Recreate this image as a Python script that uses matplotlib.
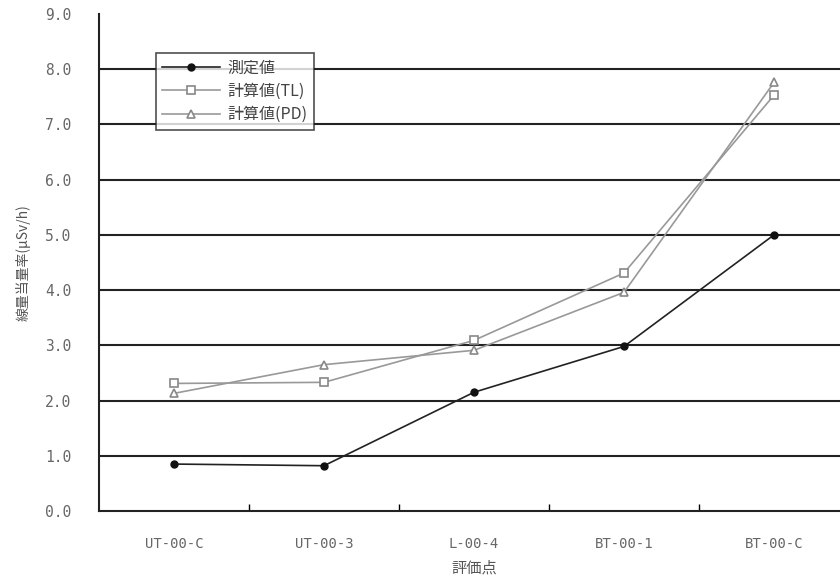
import matplotlib
matplotlib.use("Agg")
import matplotlib.pyplot as plt

plt.rcParams['font.family'] = ['Noto Sans CJK JP', 'DejaVu Sans']

categories = ["UT-00-C", "UT-00-3", "L-00-4", "BT-00-1", "BT-00-C"]
measured = [0.85, 0.82, 2.15, 2.98, 5.00]
calc_tl = [2.31, 2.33, 3.09, 4.31, 7.53]
calc_pd = [2.13, 2.65, 2.91, 3.96, 7.76]
yticks = [0.0, 1.0, 2.0, 3.0, 4.0, 5.0, 6.0, 7.0, 8.0, 9.0]
ytick_labels = ["0.0", "1.0", "2.0", "3.0", "4.0", "5.0", "6.0", "7.0", "8.0", "9.0"]
series_names = ["測定値", "計算値(TL)", "計算値(PD)"]

W, H = 840, 579
fig = plt.figure(figsize=(W / 100, H / 100), dpi=100)
left, right, top, bottom = 99, 849, 14, 511
ax = fig.add_axes([left / W, 1 - bottom / H, (right - left) / W, (bottom - top) / H])

x = list(range(len(categories)))
ax.plot(x, measured, color='#222222', lw=1.2, marker='o', ms=5,
        mfc='#111111', mec='#111111', label=series_names[0], zorder=4)
ax.plot(x, calc_tl, color='#999999', lw=1.2, marker='s', ms=6,
        mfc='white', mec='#888888', mew=1.2, label=series_names[1], zorder=3)
ax.plot(x, calc_pd, color='#999999', lw=1.2, marker='^', ms=6,
        mfc='white', mec='#888888', mew=1.2, label=series_names[2], zorder=3)

ax.set_xlim(-0.5, len(categories) - 0.5)
ax.set_ylim(0, 9)
ax.set_yticks(yticks)
ax.set_yticklabels(ytick_labels, fontsize=10.5, color='#666666', family=['DejaVu Sans Mono'])
for yv in yticks[1:-1]:
    ax.axhline(yv, color='#222222', lw=1.5, zorder=1)

ax.set_xticks(x)
ax.set_xticklabels(categories, fontsize=10, color='#666666', family=['DejaVu Sans Mono'])
ax.tick_params(axis='x', length=0, pad=19)
ax.set_xticks([i + 0.5 for i in x[:-1]], minor=True)
ax.tick_params(axis='x', which='minor', length=5, direction='in', width=1)
ax.tick_params(axis='y', length=0, pad=20)

for s in ['top', 'right']:
    ax.spines[s].set_visible(False)
ax.spines['left'].set_linewidth(1.5)
ax.spines['bottom'].set_linewidth(1.5)
ax.spines['left'].set_color('#222222')
ax.spines['bottom'].set_color('#222222')

ax.set_xlabel("評価点", fontsize=11, color='#555555', labelpad=6)
ax.set_ylabel("線量当量率(μSv/h)", fontsize=10, color='#555555', labelpad=10)

leg = ax.legend(loc='upper left', bbox_to_anchor=((156 - left) / (right - left), 1 - (53 - top) / (bottom - top)),
                fontsize=11.5, frameon=True, fancybox=False, edgecolor='#222222',
                handlelength=3.6, borderpad=0.4, labelspacing=0.4, borderaxespad=0,
                handletextpad=0.5)
leg.get_frame().set_linewidth(1.2)
leg.set_zorder(5)
for t in leg.get_texts():
    t.set_color('#444444')

fig.savefig("out.png", dpi=100)
